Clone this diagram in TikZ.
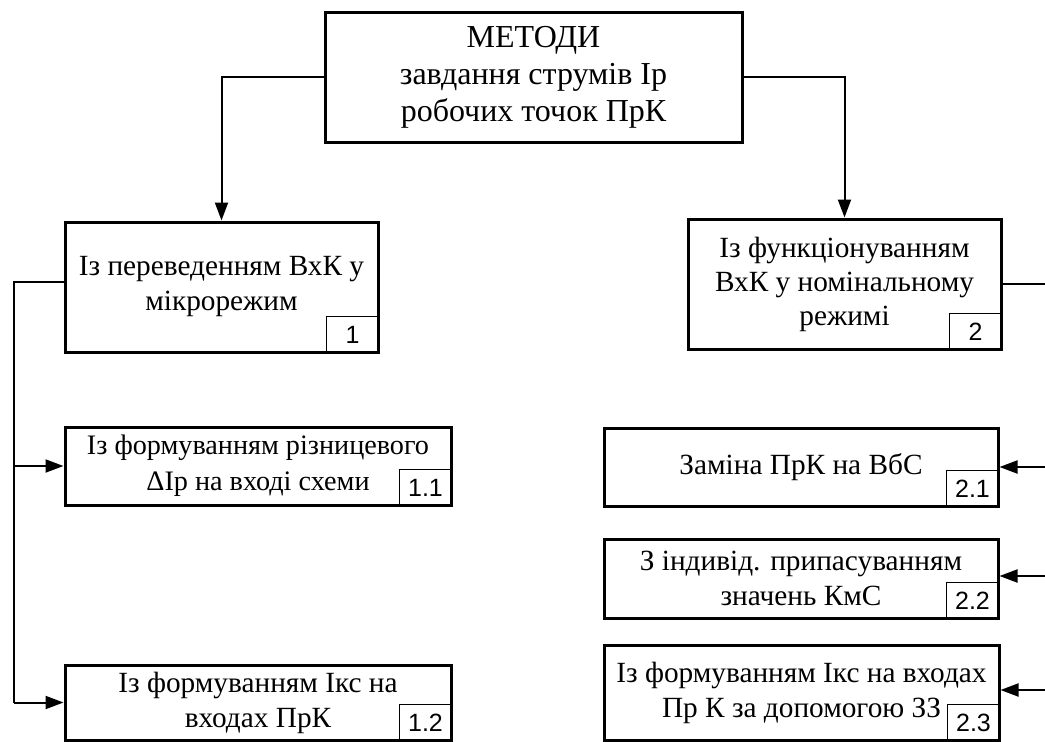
\documentclass[tikz,border=0pt]{standalone}
\usepackage{fontspec}
\setmainfont{Liberation Serif}
\newfontfamily\numfont{Liberation Sans}
\usetikzlibrary{arrows.meta}
\tikzset{
  box/.style={draw, line width=3pt, inner sep=0pt, align=center, fill=white,
    font=\fontsize{29.3}{35}\selectfont},
  numbox/.style={draw, line width=1pt, inner sep=0pt, anchor=south east,
    minimum width=53pt, minimum height=37pt, font=\numfont\fontsize{25}{25}\selectfont},
  conn/.style={line width=2pt, -{Triangle[length=18pt,width=13pt]}},
  bus/.style={line width=2pt},
}
\begin{document}
\begin{tikzpicture}[x=1pt,y=-1pt]
\useasboundingbox (0,0) rectangle (1045,742);
% main boxes
\node[box, minimum width=417pt, minimum height=130pt, font=\fontsize{32}{37}\selectfont] (top) at (533.5,77)
  {МЕТОДИ\\завдання струмів Ір\\робочих точок ПрК};
\node[box, minimum width=313pt, minimum height=130pt] (b1) at (221.5,287)
  {Із переведенням ВхК у\\мікрорежим};
\node[box, minimum width=313pt, minimum height=130pt, font=\fontsize{29.3}{34}\selectfont] (b2) at (844.5,284)
  {Із функціонуванням\\ВхК у номінальному\\режимі};
\node[box, minimum width=386pt, minimum height=78pt, font=\fontsize{28.2}{36}\selectfont] (b11) at (258,466)
  {Із формуванням різницевого\\ΔІр на вході схеми};
\node[box, minimum width=386pt, minimum height=75pt] (b12) at (258,702.5)
  {Із формуванням Ікс на\\входах ПрК};
\node[box, minimum width=394pt, minimum height=78pt] (b21) at (801,467)
  {Заміна ПрК на ВбС};
\node[box, minimum width=394pt, minimum height=79pt] (b22) at (801,578.5)
  {З індивід. припасуванням\\значень КмС};
\node[box, minimum width=395pt, minimum height=95pt] (b23) at (801.5,692.5)
  {Із формуванням Ікс на входах\\Пр К за допомогою ЗЗ};
% number boxes
\node[numbox] (n1) at (b1.south east) {1};
\node[numbox] (n2) at (b2.south east) {2};
\node[numbox] (n11) at (b11.south east) {1.1};
\node[numbox] (n12) at (b12.south east) {1.2};
\node[numbox] (n21) at (b21.south east) {2.1};
\node[numbox] (n22) at (b22.south east) {2.2};
\node[numbox] (n23) at (b23.south east) {2.3};
% connectors from top
\draw[conn] (top.west) -| (b1.north);
\draw[conn] (top.east) -| (b2.north);
% left bus
\coordinate (L) at (14,282);
\draw[bus] ([yshift=5pt]b1.west) -- (L) -- (L |- b12.west);
\draw[conn] (b11.west -| L) -- (b11.west);
\draw[conn] (b12.west -| L) -- (b12.west);
% right bus
\coordinate (R) at (1052,284);
\draw[bus] (b2.east) -- (R) -- (R |- b23.east);
\draw[conn] (b21.east -| R) -- (b21.east);
\draw[conn] ([yshift=2.5pt]b22.east -| R) -- ([yshift=2.5pt]b22.east);
\draw[conn] ([yshift=2.5pt]b23.east -| R) -- ([yshift=2.5pt]b23.east);
\end{tikzpicture}
\end{document}
